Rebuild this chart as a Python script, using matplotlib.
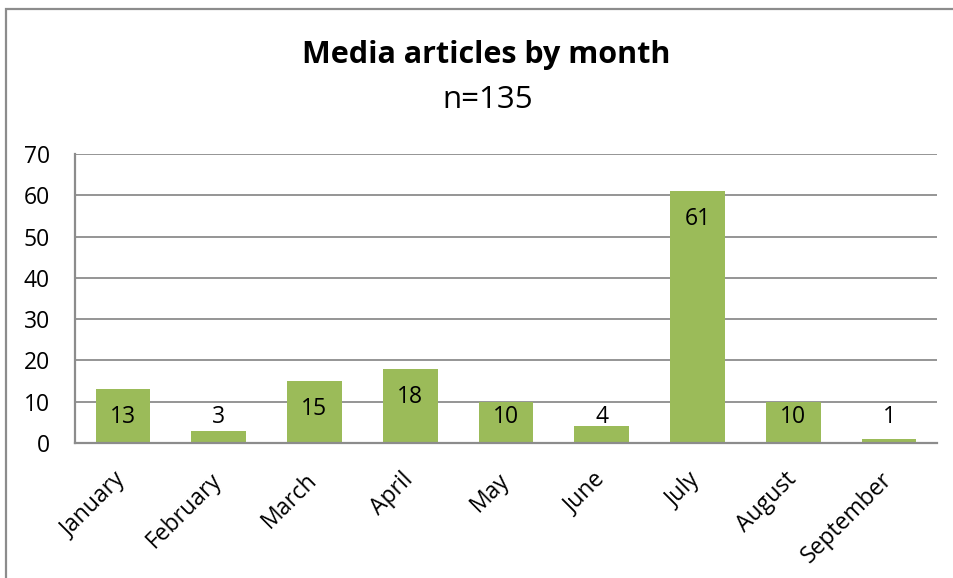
import matplotlib.pyplot as plt
from matplotlib.patches import Rectangle
from matplotlib.transforms import ScaledTranslation

months = ['January', 'February', 'March', 'April', 'May', 'June',
          'July', 'August', 'September']
articles = [13, 3, 15, 18, 10, 4, 61, 10, 1]
yticks = [0, 10, 20, 30, 40, 50, 60, 70]

plt.rcParams['font.family'] = ['Open Sans', 'DejaVu Sans']

W, H = 954, 578
fig = plt.figure(figsize=(W / 100, H / 100), dpi=100)

# chart frame, cut off on the right and bottom
fig.patches.append(Rectangle((6 / W, -0.1), 1.2, 1 - 9 / H + 0.1,
                             transform=fig.transFigure, fill=False,
                             edgecolor='#8c8c8c', linewidth=1.6))

ax = fig.add_axes([75 / W, 1 - 443 / H, (937 - 75) / W, (443 - 154) / H])
x = range(len(months))
ax.bar(x, articles, width=0.57, color='#9BBB59', zorder=3)

# value labels sit inside the bar end, but never lower than the short-bar spot
for i, v in enumerate(articles):
    ax.text(i, max(v - 6.8, 6.3), str(v), ha='center', va='center',
            fontsize=16.5, color='black', zorder=4)

ax.set_xlim(-0.5, len(months) - 0.5)
ax.set_ylim(0, 70)
ax.set_yticks(yticks)
ax.set_yticklabels([str(t) for t in yticks], fontsize=16.5)
ax.set_xticks(list(x))
ax.set_xticklabels(months, rotation=45, ha='right', rotation_mode='anchor',
                   fontsize=16.5)
ax.tick_params(axis='both', length=0)
ax.tick_params(axis='y', pad=18)
ax.tick_params(axis='x', pad=18)
shift = ScaledTranslation(-0.09, 0, fig.dpi_scale_trans)
for lbl in ax.get_xticklabels():
    lbl.set_transform(lbl.get_transform() + shift)
ax.yaxis.grid(True, color='#8c8c8c', linewidth=1.3, zorder=0)
for s in ['top', 'right']:
    ax.spines[s].set_visible(False)
for s in ['left', 'bottom']:
    ax.spines[s].set_color('#8c8c8c')
    ax.spines[s].set_linewidth(1.6)
    ax.spines[s].set_zorder(5)

fig.text(486 / W, 1 - 55 / H, 'Media articles by month', ha='center',
         va='center', fontsize=22, fontweight='bold')
fig.text(488 / W, 1 - 100 / H, 'n=135', ha='center', va='center',
         fontsize=22.5)

fig.savefig('out.png', dpi=100)
